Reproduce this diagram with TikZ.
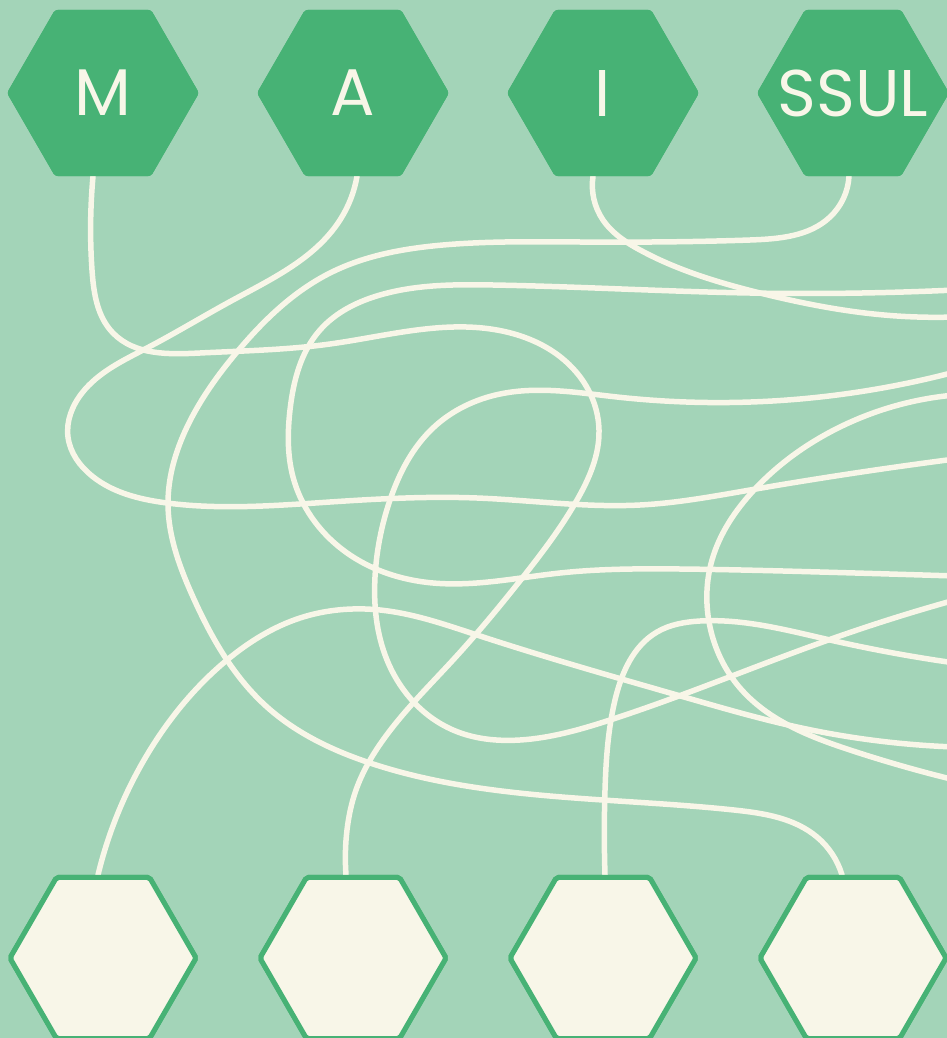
\documentclass[tikz,border=0pt]{standalone}
\usepackage{fontspec}
\setmainfont{Poppins}
\usetikzlibrary{shapes.geometric,hobby}
\definecolor{bg}{HTML}{A3D4B8}
\definecolor{hexgreen}{HTML}{47B275}
\definecolor{cream}{HTML}{F8F6E8}
\begin{document}
\begin{tikzpicture}[x=1pt,y=-1pt,
  tophex/.style={regular polygon, regular polygon sides=6, minimum size=192pt, inner sep=0pt,
    fill=hexgreen, draw=none, rounded corners=3pt, text=cream,
    font=\fontsize{66}{66}\selectfont},
  bothex/.style={regular polygon, regular polygon sides=6, minimum size=186pt, inner sep=0pt,
    fill=cream, draw=hexgreen, line width=5pt, rounded corners=2pt},
  wire/.style={draw=cream, line width=5.5pt, line cap=round, use Hobby shortcut}]
\fill[bg] (0,0) rectangle (947,1038);
\useasboundingbox (0,0) rectangle (947,1038);

% hexagons
\node[tophex] (m) at (103,93) {\makebox[0pt]{M}};
\node[tophex] (a) at (353,93) {\makebox[0pt]{A}};
\node[tophex] (i) at (603,93) {\makebox[0pt]{I}};
\node[tophex] (s) at (853,93) {\makebox[0pt]{SSUL}};
\node[bothex] (b1) at (103,958) {};
\node[bothex] (b2) at (353,958) {};
\node[bothex] (b3) at (603,958) {};
\node[bothex] (b4) at (853,958) {};

% free ends at the right edge
\coordinate (e2) at (955,459);
\coordinate (e3) at (955,317);
\coordinate (e5a) at (955,290);
\coordinate (e5b) at (955,576);
\coordinate (e6a) at (955,372);
\coordinate (e6b) at (955,600);
\coordinate (e7a) at (955,395);
\coordinate (e7b) at (955,780);
\coordinate (e8) at (955,747);
\coordinate (e9) at (955,663);

% wire 1: M -> bottom 2
\draw[wire] ([xshift=-10pt]m.south) .. (92,270) .. (113,333) .. (200,353) .. (330,344) .. (497,330) .. (577,373) .. (599,430) .. (577,500) .. (523,577) .. (453,660) .. (383,740) .. (356,790) .. (347,830) .. ([xshift=-7pt]b2.north);
% wire 2: A -> right
\draw[wire] ([xshift=4pt]a.south) .. (340,220) .. (233,300) .. (147,348) .. (82,393) .. (68,437) .. (92,476) .. (167,503) .. (330,502) .. (477,498) .. (640,505) .. (750,490) .. (e2);
% wire 3: I -> right
\draw[wire] ([xshift=-10pt]i.south) .. (603,220) .. (640,250) .. (760,293) .. (884,315) .. (e3);
% wire 4: SSUL -> bottom 4
\draw[wire] ([xshift=-4pt]s.south) .. (830,217) .. (750,240) .. (580,242) .. (443,245) .. (330,273) .. (237,352) .. (187,427) .. (168,503) .. (193,597) .. (267,707) .. (370,763) .. (510,792) .. (734,810) .. (817,837) .. ([xshift=-11pt]b4.north);
% wire 5: right -> right
\draw[wire] (e5a) .. (750,293) .. (493,285) .. (380,295) .. (320,330) .. (290,410) .. (293,477) .. (343,550) .. (433,583) .. (560,573) .. (680,569) .. (820,572) .. (e5b);
% wire 6: right -> right
\draw[wire] (e6a) .. (617,397) .. (500,394) .. (433,428) .. (390,500) .. (375,577) .. (387,660) .. (453,730) .. (520,740) .. (610,720) .. (834,638) .. (e6b);
% wire 7: right -> right
\draw[wire] (e7a) .. (834,430) .. (754,490) .. (712,560) .. (710,627) .. (740,688) .. (850,750) .. (e7b);
% wire 8: bottom 1 -> right
\draw[wire] ([xshift=-5pt]b1.north) .. (150,750) .. (227,660) .. (300,618) .. (380,610) .. (477,635) .. (684,697) .. (797,727) .. (e8);
% wire 9: bottom 3 -> right
\draw[wire] ([xshift=2pt]b3.north) .. (605,790) .. (615,700) .. (657,632) .. (700,621) .. (830,640) .. (e9);

% hexagons redrawn on top of the wire ends
\path (103,93) node[tophex] {\makebox[0pt]{M}}
      (353,93) node[tophex] {\makebox[0pt]{A}}
      (603,93) node[tophex] {\makebox[0pt]{I}}
      (853,93) node[tophex] {\makebox[0pt]{SSUL}};
\path (103,958) node[bothex] {}
      (353,958) node[bothex] {}
      (603,958) node[bothex] {}
      (853,958) node[bothex] {};
\end{tikzpicture}
\end{document}
